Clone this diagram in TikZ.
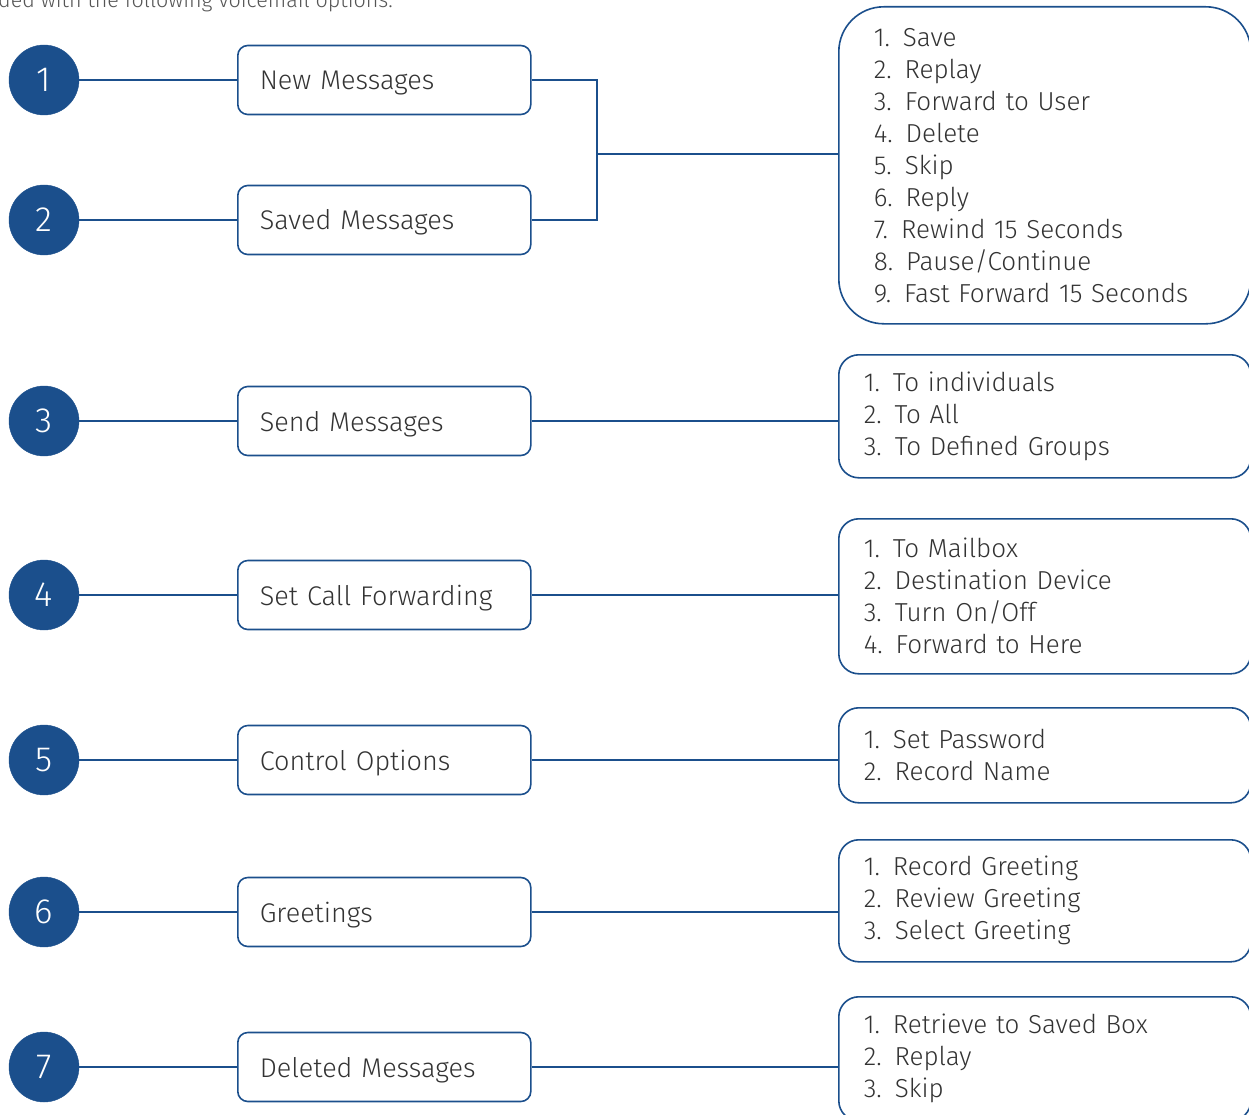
\documentclass[tikz,border=0pt]{standalone}
\usepackage{fontspec}
\setmainfont{Fira Sans Light}
\usepackage{xcolor}
\definecolor{MailNavy}{HTML}{1B4F8C}
\definecolor{MailInk}{HTML}{333333}
\definecolor{MailGrey}{HTML}{555555}
\usepackage{tikz}
\usetikzlibrary{positioning,calc}
\tikzset{
  mnum/.style={circle,fill=MailNavy,draw=MailNavy,minimum size=70pt,inner sep=0pt,text=white,font=\fontsize{35}{35}\selectfont},
  mbox/.style={draw=MailNavy,line width=1.6pt,fill=white,rounded corners=10pt,minimum width=293pt,minimum height=69pt,text width=249pt,inner xsep=22pt,text height=26pt,text depth=6pt,align=left,text=MailInk,font=\fontsize{27}{30}\selectfont,anchor=west},
  mlist/.style={draw=MailNavy,line width=1.6pt,fill=white,rounded corners=20pt,text width=362pt,inner xsep=25pt,inner ysep=0pt,align=left,text=MailInk,font=\fontsize{26}{32}\selectfont,anchor=north west},
  mlink/.style={draw=MailNavy,line width=1.6pt}
}

\begin{document}
\begin{tikzpicture}[x=1pt,y=-1pt]
  \useasboundingbox (0,0) rectangle (1249,1115);
  \node[anchor=base west,inner sep=0pt,text=MailGrey,font=\fontsize{21.5}{26}\selectfont] (intro) at (-2,8) {ded with the following voicemail options.};
  % numbered circles
  \node[mnum] (n1) at (44,80) {1};
  \node[mnum] (n2) at (44,220) {2};
  \node[mnum] (n3) at (44,421) {3};
  \node[mnum] (n4) at (44,595) {4};
  \node[mnum] (n5) at (44,760) {5};
  \node[mnum] (n6) at (44,912) {6};
  \node[mnum] (n7) at (44,1067) {7};
  % menu boxes
  \node[mbox] (newmsg) at (237,80) {New Messages};
  \node[mbox] (savedmsg) at (237,220) {Saved Messages};
  \node[mbox] (sendmsg) at (237,421) {Send Messages};
  \node[mbox] (callfwd) at (237,595) {Set Call Forwarding};
  \node[mbox] (control) at (237,760) {Control Options};
  \node[mbox] (greet) at (237,912) {Greetings};
  \node[mbox] (deleted) at (237,1067) {Deleted Messages};
  % option lists
  \node[mlist,rounded corners=45pt,inner xsep=35pt,text width=342pt,minimum height=317pt] (playlist) at (838,6)
    {1. Save\\2. Replay\\3. Forward to User\\4. Delete\\5. Skip\\6. Reply\\7. Rewind 15 Seconds\\8. Pause/Continue\\9. Fast Forward 15 Seconds};
  \node[mlist,minimum height=123pt] (sendlist) at (838,354)
    {1. To individuals\\2. To All\\3. To Defined Groups};
  \node[mlist,minimum height=155pt] (fwdlist) at (838,518)
    {1. To Mailbox\\2. Destination Device\\3. Turn On/Off\\4. Forward to Here};
  \node[mlist,minimum height=95pt] (ctrllist) at (838,707)
    {1. Set Password\\2. Record Name};
  \node[mlist,minimum height=122pt] (greetlist) at (838,839)
    {1. Record Greeting\\2. Review Greeting\\3. Select Greeting};
  \node[mlist,minimum height=124pt] (dellist) at (838,996)
    {1. Retrieve to Saved Box\\2. Replay\\3. Skip};
  % connectors
  \draw[mlink] (n1) -- (newmsg);
  \draw[mlink] (n2) -- (savedmsg);
  \draw[mlink] (n3) -- (sendmsg);
  \draw[mlink] (n4) -- (callfwd);
  \draw[mlink] (n5) -- (control);
  \draw[mlink] (n6) -- (greet);
  \draw[mlink] (n7) -- (deleted);
  \coordinate (joint) at (597,154);
  \draw[mlink] (newmsg.east) -| (joint) |- (savedmsg.east);
  \draw[mlink] (joint) -- (joint -| playlist.west);
  \draw[mlink] (sendmsg.east) -- (sendmsg.east -| sendlist.west);
  \draw[mlink] (callfwd.east) -- (callfwd.east -| fwdlist.west);
  \draw[mlink] (control.east) -- (control.east -| ctrllist.west);
  \draw[mlink] (greet.east) -- (greet.east -| greetlist.west);
  \draw[mlink] (deleted.east) -- (deleted.east -| dellist.west);
\end{tikzpicture}
\end{document}
